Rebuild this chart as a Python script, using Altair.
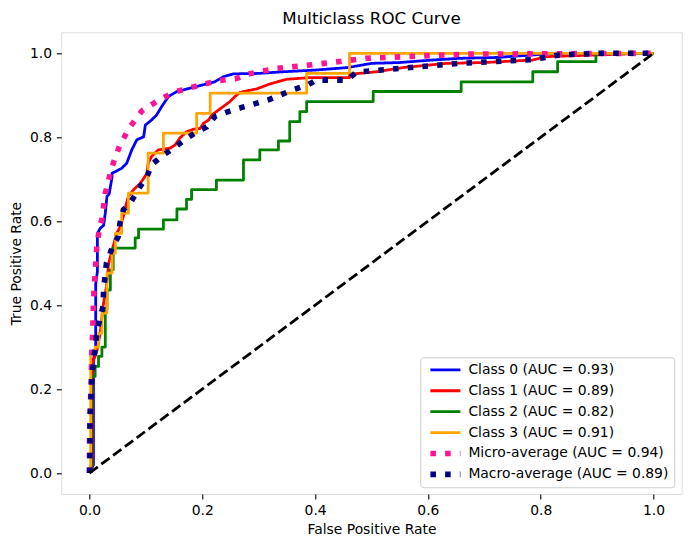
import altair as alt
import pandas as pd

labels = [
    "Class 0 (AUC = 0.93)",
    "Class 1 (AUC = 0.89)",
    "Class 2 (AUC = 0.82)",
    "Class 3 (AUC = 0.91)",
    "Micro-average (AUC = 0.94)",
    "Macro-average (AUC = 0.89)",
]
colors = ["#0000ff", "#ff0000", "#008000", "#ffa500", "#ff1493", "#000080"]
dashes = [[1, 0], [1, 0], [1, 0], [1, 0], [5.56, 9.17], [5.56, 9.17]]
widths = [2.78, 2.78, 2.78, 2.78, 5.56, 5.56]

class0_fpr = [0, 0.007, 0.007, 0.011, 0.011, 0.014, 0.014, 0.019, 0.025, 0.028, 0.031, 0.035, 0.040, 0.040,
              0.057, 0.066, 0.075, 0.084, 0.096, 0.099, 0.110, 0.119, 0.128, 0.140, 0.155, 0.178, 0.202,
              0.222, 0.237, 0.255, 0.300, 0.343, 0.400, 0.458, 0.500, 0.550, 0.609, 0.656, 0.720, 0.786,
              0.820, 1.0]
class0_tpr = [0, 0.02, 0.27, 0.30, 0.45, 0.48, 0.57, 0.583, 0.59, 0.619, 0.659, 0.665, 0.706, 0.714,
              0.726, 0.738, 0.770, 0.794, 0.801, 0.829, 0.841, 0.853, 0.873, 0.897, 0.909, 0.917, 0.925,
              0.932, 0.944, 0.951, 0.952, 0.956, 0.960, 0.966, 0.976, 0.978, 0.984, 0.988, 0.990, 0.996,
              1.0, 1.0]

class1_fpr = [0, 0.005, 0.005, 0.013, 0.019, 0.024, 0.030, 0.034, 0.042, 0.048, 0.054, 0.060, 0.066,
              0.069, 0.078, 0.090, 0.102, 0.104, 0.110, 0.122, 0.143, 0.152, 0.160, 0.172, 0.184, 0.196,
              0.202, 0.211, 0.217, 0.225, 0.237, 0.249, 0.258, 0.267, 0.296, 0.320, 0.349, 0.390, 0.461,
              0.461, 0.509, 0.556, 0.633, 0.700, 0.786, 0.810, 0.898, 0.987, 1.0]
class1_tpr = [0, 0.02, 0.26, 0.29, 0.333, 0.397, 0.444, 0.500, 0.540, 0.571, 0.585, 0.611, 0.645,
              0.659, 0.675, 0.690, 0.714, 0.738, 0.754, 0.770, 0.774, 0.782, 0.798, 0.813, 0.819, 0.821,
              0.833, 0.841, 0.853, 0.861, 0.873, 0.885, 0.897, 0.907, 0.915, 0.927, 0.938, 0.942, 0.942,
              0.950, 0.956, 0.966, 0.976, 0.978, 0.984, 0.992, 0.996, 1.0, 1.0]

class2_fpr = [0, 0.004, 0.004, 0.010, 0.010, 0.016, 0.016, 0.022, 0.022, 0.028, 0.028, 0.031, 0.031,
              0.037, 0.037, 0.042, 0.042, 0.081, 0.081, 0.087, 0.087, 0.131, 0.131, 0.155, 0.155, 0.172,
              0.172, 0.181, 0.181, 0.225, 0.225, 0.273, 0.273, 0.302, 0.302, 0.335, 0.335, 0.355, 0.355,
              0.373, 0.373, 0.385, 0.385, 0.503, 0.503, 0.659, 0.659, 0.786, 0.786, 0.830, 0.830, 0.898,
              0.898, 1.0]
class2_tpr = [0, 0.02, 0.230, 0.230, 0.254, 0.254, 0.278, 0.278, 0.300, 0.300, 0.390, 0.390, 0.436,
              0.436, 0.484, 0.484, 0.536, 0.536, 0.560, 0.560, 0.581, 0.581, 0.603, 0.603, 0.629, 0.629,
              0.652, 0.652, 0.675, 0.675, 0.698, 0.698, 0.746, 0.746, 0.770, 0.770, 0.791, 0.791, 0.837,
              0.837, 0.861, 0.861, 0.885, 0.885, 0.909, 0.909, 0.932, 0.932, 0.956, 0.956, 0.980, 0.980,
              1.0, 1.0]

class3_fpr = [0, 0.002, 0.002, 0.010, 0.010, 0.016, 0.016, 0.022, 0.022, 0.031, 0.031, 0.040, 0.040,
              0.046, 0.046, 0.057, 0.057, 0.069, 0.069, 0.104, 0.104, 0.131, 0.131, 0.190, 0.190, 0.214,
              0.214, 0.385, 0.385, 0.461, 0.461, 1.0]
class3_tpr = [0, 0.02, 0.286, 0.286, 0.300, 0.300, 0.333, 0.333, 0.381, 0.381, 0.476, 0.476, 0.524,
              0.524, 0.571, 0.571, 0.619, 0.619, 0.667, 0.667, 0.762, 0.762, 0.810, 0.810, 0.857, 0.857,
              0.905, 0.905, 0.952, 0.952, 1.0, 1.0]

micro_fpr = [0, 0.000, 0.001, 0.003, 0.004, 0.006, 0.007, 0.010, 0.013, 0.018, 0.022, 0.028, 0.040,
             0.054, 0.072, 0.093, 0.119, 0.149, 0.184, 0.225, 0.261, 0.279, 0.332, 0.390, 0.490, 0.668,
             1.0]
micro_tpr = [0, 0.087, 0.143, 0.214, 0.286, 0.349, 0.413, 0.476, 0.540, 0.587, 0.605, 0.667, 0.730,
             0.782, 0.825, 0.863, 0.885, 0.907, 0.920, 0.934, 0.940, 0.950, 0.964, 0.972, 0.988, 0.998,
             1.0]

macro_fpr = [0, 0.001, 0.001, 0.003, 0.004, 0.007, 0.010, 0.013, 0.018, 0.024, 0.025, 0.030, 0.040,
             0.051, 0.054, 0.060, 0.072, 0.090, 0.102, 0.110, 0.128, 0.149, 0.169, 0.187, 0.208, 0.222,
             0.246, 0.270, 0.317, 0.361, 0.388, 0.402, 0.456, 0.473, 0.550, 0.656, 0.786, 0.833, 0.904,
             1.0]
macro_tpr = [0, 0.056, 0.127, 0.190, 0.230, 0.262, 0.300, 0.333, 0.365, 0.397, 0.436, 0.500, 0.536,
             0.563, 0.595, 0.627, 0.643, 0.683, 0.706, 0.734, 0.755, 0.774, 0.794, 0.810, 0.825, 0.849,
             0.861, 0.871, 0.889, 0.913, 0.925, 0.936, 0.936, 0.955, 0.964, 0.976, 0.985, 0.996, 1.0,
             1.0]

diag_fpr = [0.0, 1.0]
diag_tpr = [0.0, 1.0]

tick_values = [0.0, 0.2, 0.4, 0.6, 0.8, 1.0]

fprs = [class0_fpr, class1_fpr, class2_fpr, class3_fpr, micro_fpr, macro_fpr]
tprs = [class0_tpr, class1_tpr, class2_tpr, class3_tpr, micro_tpr, macro_tpr]

rows = []
for lab, fx, ty in zip(labels, fprs, tprs):
    for i, (a, b) in enumerate(zip(fx, ty)):
        rows.append({"series": lab, "fpr": a, "tpr": b, "i": i})
df = pd.DataFrame(rows)
diag_df = pd.DataFrame({"fpr": diag_fpr, "tpr": diag_tpr})

FONT = "DejaVu Sans"
xscale = alt.Scale(domain=[-0.05, 1.05], nice=False, zero=False)
yscale = alt.Scale(domain=[-0.05, 1.05], nice=False, zero=False)


def axis(title, tpad):
    return alt.Axis(
        values=tick_values, format=".1f", title=title, grid=False, domain=False,
        tickColor="black", tickWidth=1.1, tickSize=4.9, labelPadding=4.9,
        labelFont=FONT, labelFontSize=13.9, labelColor="black", labelFlush=False,
        titleFont=FONT, titleFontSize=13.9, titleFontWeight="normal", titleColor="black",
        titlePadding=tpad,
    )


legend = alt.Legend(
    title=None, orient="bottom-right", offset=7, padding=5.6, rowPadding=5.9,
    clipHeight=13.9,
    symbolType="stroke", symbolSize=900, symbolOffset=1.5,
    labelFont=FONT, labelFontSize=13.9,
    labelColor="black", labelOffset=5, labelLimit=400,
    fillColor="rgba(255,255,255,0.8)", strokeColor="#cccccc", cornerRadius=3,
)

curves = alt.Chart(df).mark_line(strokeJoin="round").encode(
    x=alt.X("fpr:Q", scale=xscale, axis=axis("False Positive Rate", 5.0)),
    y=alt.Y("tpr:Q", scale=yscale, axis=axis("True Positive Rate", 5.6)),
    color=alt.Color("series:N", scale=alt.Scale(domain=labels, range=colors), legend=legend),
    strokeDash=alt.StrokeDash("series:N", scale=alt.Scale(domain=labels, range=dashes), legend=legend),
    strokeWidth=alt.StrokeWidth("series:N", scale=alt.Scale(type="ordinal", domain=labels, range=widths),
                                legend=legend),
    order=alt.Order("i:Q"),
    detail="series:N",
)

diag = alt.Chart(diag_df).mark_line(color="black", strokeWidth=2.78, strokeDash=[10.3, 4.4]).encode(
    x=alt.X("fpr:Q", scale=xscale),
    y=alt.Y("tpr:Q", scale=yscale),
)

chart = alt.layer(curves, diag).properties(
    width=620.4,
    height=461.7,
    title=alt.TitleParams("Multiclass ROC Curve", font=FONT, fontSize=16.7, fontWeight="normal",
                          color="black", baseline="alphabetic", offset=-8.4, anchor="middle"),
    padding={"left": 53.3, "top": 24.3, "right": 1, "bottom": 45},
    autosize="none",
).configure_view(stroke="black", strokeWidth=1.1).configure(font=FONT)

chart.save("out.html", embed_options={"renderer": "svg", "actions": False})
